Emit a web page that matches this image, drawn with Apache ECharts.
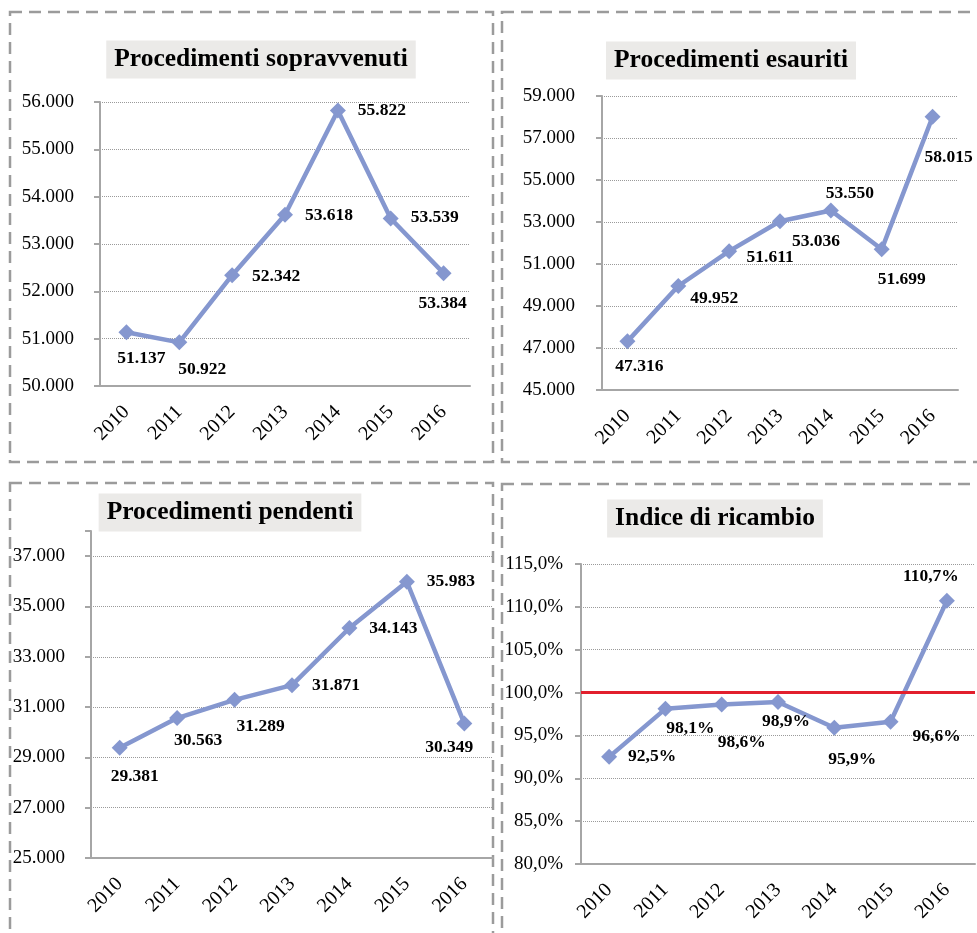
<!DOCTYPE html>
<html lang="it">

<head>
    <title>Procedimenti 2010-2016</title>
    <meta charset="utf-8">
    <style>
        body {
            margin: 0;
            background-color: white;
        }
    </style>
</head>

<body>
    <div id="chart" style="width: 977px; height: 933px"></div>
    <script src="https://cdn.jsdelivr.net/npm/echarts@6/dist/echarts.min.js"></script>
    <script>
        var anni = ["2010", "2011", "2012", "2013", "2014", "2015", "2016"];

        // the 2016 point sits at 52.384 in the picture, but it is labelled 53.384
        var sopravvenuti = [51137, 50922, 52342, 53618, 55822, 53539, 52384];
        var sopravvenutiTesti = ["51.137", "50.922", "52.342", "53.618", "55.822", "53.539", "53.384"];
        var esauriti = [47316, 49952, 51611, 53036, 53550, 51699, 58015];
        var pendenti = [29381, 30563, 31289, 31871, 34143, 35983, 30349];
        var ricambio = [92.5, 98.1, 98.6, 98.9, 95.9, 96.6, 110.7];
        var sogliaRicambio = 100;

        var titoli = ["Procedimenti sopravvenuti", "Procedimenti esauriti", "Procedimenti pendenti", "Indice di ricambio"];

        // label placement, relative to each point
        var spostamenti = [
            [[15, 26], [23, 27], [44, 1], [44, 1], [44, 0], [44, -1], [-1, 30]],
            [[12, 25], [36, 12], [41, 6], [36, 20], [19, -17], [20, 30], [16, 41]],
            [[15, 29], [21, 22], [26, 27], [44, 0], [44, 0], [44, 0], [-15, 24]],
            [[43, 0], [25, 20], [20, 38], [8, 19], [18, 32], [46, 15], [-16, -24]]
        ];

        var serif = "'Liberation Serif', 'Times New Roman', serif";
        var grigio = "#a6a6a6";
        var blu = "#8597cf";

        function migliaia(v) {
            return Math.round(v).toString().replace(/\B(?=(\d{3})+(?!\d))/g, ".");
        }
        function percento(v) {
            return v.toFixed(1).replace(".", ",") + "%";
        }

        var griglie = [
            { left: 100, top: 102, width: 370, height: 284 },
            { left: 602, top: 96, width: 356, height: 294 },
            { left: 91, top: 531, width: 402, height: 327 },
            { left: 581, top: 564, width: 394, height: 300 }
        ];
        var scale = [
            { min: 50000, max: 56000, interval: 1000, margin: 26, fmt: migliaia },
            { min: 45000, max: 59000, interval: 2000, margin: 27, fmt: migliaia },
            { min: 25000, max: 38000, interval: 2000, margin: 26, fmt: migliaia },
            { min: 80, max: 115, interval: 5, margin: 18, fmt: percento }
        ];
        // title box centres (the padding shifts the box by 8px, hence the -8)
        var centriTitoli = [[253, 41], [723, 42], [222, 494], [707, 500]];
        var cornici = [
            [10, 12, 483, 450],
            [502, 12, 520, 450],
            [10, 483, 483, 500],
            [502, 484, 520, 500]
        ];
        var serie = [sopravvenuti, esauriti, pendenti, ricambio];

        var xAxis = [], yAxis = [], series = [], title = [], graphic = [];

        for (var i = 0; i < 4; i++) {
            title.push({
                text: titoli[i],
                left: centriTitoli[i][0],
                top: centriTitoli[i][1],
                textAlign: "center",
                backgroundColor: "#ebeae8",
                padding: [6, 8],
                textStyle: {
                    fontFamily: serif,
                    fontWeight: "bold",
                    fontSize: 25.5,
                    lineHeight: 25,
                    color: "#000"
                }
            });
            xAxis.push({
                type: "category",
                gridIndex: i,
                data: anni,
                boundaryGap: true,
                axisLine: { lineStyle: { color: grigio, width: 2 } },
                axisTick: { length: 5, lineStyle: { color: grigio, width: 2 } },
                axisLabel: {
                    rotate: 45,
                    margin: 23,
                    interval: 0,
                    fontFamily: serif,
                    fontSize: 20,
                    color: "#000"
                }
            });
            (function (s) {
                yAxis.push({
                    type: "value",
                    gridIndex: i,
                    min: s.min,
                    max: s.max,
                    interval: s.interval,
                    axisLine: { show: true, lineStyle: { color: grigio, width: 2 } },
                    axisTick: { show: true, length: 6, lineStyle: { color: grigio, width: 2 } },
                    splitLine: {
                        show: true,
                        showMaxLine: (s.max - s.min) % s.interval === 0,
                        lineStyle: { color: "#9a9a9a", type: "dotted", width: 1 }
                    },
                    axisLabel: {
                        margin: s.margin,
                        fontFamily: serif,
                        fontSize: 19,
                        color: "#000",
                        formatter: function (v) {
                            if ((v - s.min) % s.interval !== 0) return "";
                            return s.fmt(v);
                        }
                    }
                });
            })(scale[i]);

            (function (k) {
                var s = {
                    type: "line",
                    xAxisIndex: k,
                    yAxisIndex: k,
                    data: serie[k].map(function (v, j) {
                        return {
                            value: v,
                            label: { offset: spostamenti[k][j] }
                        };
                    }),
                    symbol: "diamond",
                    symbolSize: 16,
                    lineStyle: { color: blu, width: 4.5 },
                    itemStyle: { color: blu },
                    animation: false,
                    label: {
                        show: true,
                        position: "inside",
                        fontFamily: serif,
                        fontWeight: "bold",
                        fontSize: 17.5,
                        color: "#000",
                        formatter: function (p) {
                            if (k === 0) return sopravvenutiTesti[p.dataIndex];
                            if (k === 3) return percento(p.value);
                            return migliaia(p.value);
                        }
                    }
                };
                if (k === 3) {
                    s.markLine = {
                        silent: true,
                        symbol: "none",
                        label: { show: false },
                        lineStyle: { color: "#e21f2d", width: 3, type: "solid" },
                        data: [{ yAxis: sogliaRicambio }]
                    };
                }
                series.push(s);
            })(i);

            graphic.push({
                type: "rect",
                z: -1,
                silent: true,
                shape: {
                    x: cornici[i][0],
                    y: cornici[i][1],
                    width: cornici[i][2],
                    height: cornici[i][3]
                },
                style: {
                    fill: "none",
                    stroke: "#9b9b9b",
                    lineWidth: 2.5,
                    lineDash: [12, 7]
                }
            });
        }

        var chart = echarts.init(document.getElementById("chart"), null, { renderer: "canvas" });
        chart.setOption({
            backgroundColor: "#ffffff",
            animation: false,
            title: title,
            grid: griglie,
            xAxis: xAxis,
            yAxis: yAxis,
            series: series,
            graphic: graphic
        });
    </script>
</body>

</html>
